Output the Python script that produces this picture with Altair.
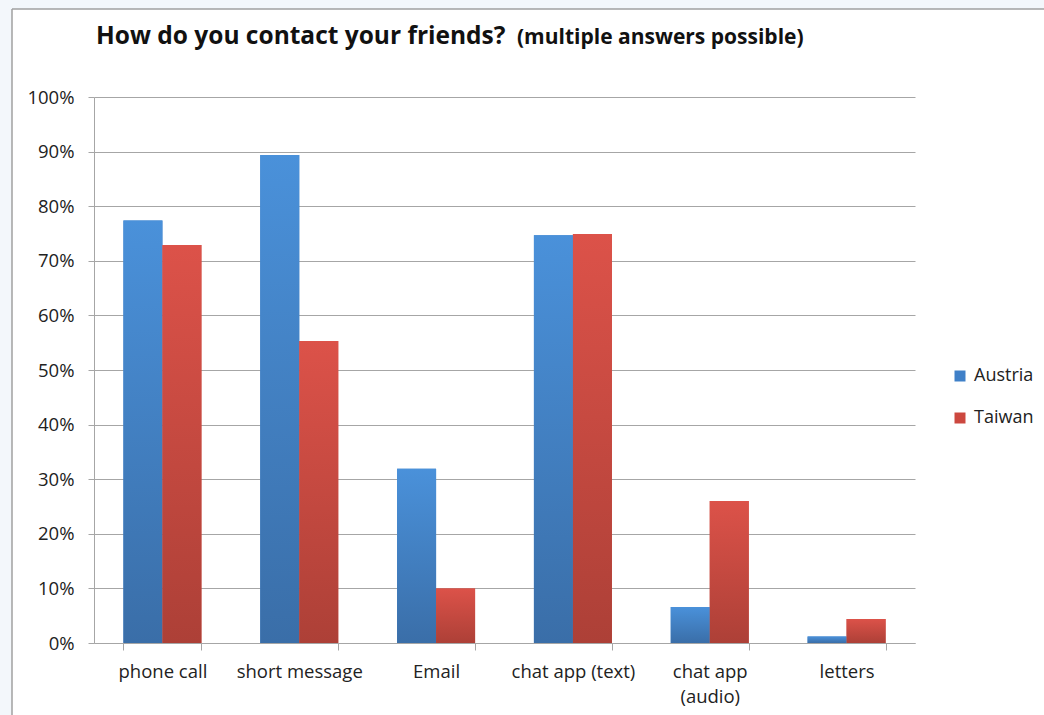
import altair as alt
import pandas as pd

categories = ["phone call", "short message", "Email", "chat app (text)", "chat app (audio)", "letters"]
countries = ["Austria", "Taiwan"]
austria = [77.4, 89.4, 31.9, 74.7, 6.6, 1.2]
taiwan = [72.9, 55.3, 10.0, 74.9, 26.0, 4.4]
y_ticks = [0, 10, 20, 30, 40, 50, 60, 70, 80, 90, 100]
title_main = "How do you contact your friends?"
title_note = "(multiple answers possible)"

rows = []
for c, a, t in zip(categories, austria, taiwan):
    rows.append({"category": c, "country": "Austria", "value": a / 100})
    rows.append({"category": c, "country": "Taiwan", "value": t / 100})
df = pd.DataFrame(rows)

FONT = "Open Sans"
AXIS_GRAY = "#a6a6a6"
TEXT = "#222222"

x_enc = alt.X(
    "category:N",
    sort=categories,
    scale=alt.Scale(paddingInner=0.43, paddingOuter=0.215),
    axis=alt.Axis(
        title=None, labelAngle=0, tickBand="extent", grid=False,
        domainColor=AXIS_GRAY, tickColor=AXIS_GRAY, tickSize=7,
        labelPadding=12, labelFont=FONT, labelFontSize=18.5, labelColor=TEXT,
        labelLineHeight=25, labelBaseline="top",
        labelExpr="datum.value == 'chat app (audio)' ? ['chat app', '(audio)'] : datum.value",
    ),
)
xo_enc = alt.XOffset("country:N", scale=alt.Scale(domain=countries, paddingInner=0, paddingOuter=0))
y_enc = alt.Y(
    "value:Q",
    scale=alt.Scale(domain=[0, 1], nice=False),
    axis=alt.Axis(
        title=None, values=[v / 100 for v in y_ticks], format=".0%",
        gridColor=AXIS_GRAY, gridWidth=1, domainColor=AXIS_GRAY, tickColor=AXIS_GRAY,
        tickSize=6, labelPadding=14, labelFont=FONT, labelFontSize=18.5, labelColor=TEXT,
    ),
)

base = alt.Chart(df).mark_bar().encode(
    x=x_enc, xOffset=xo_enc, y=y_enc,
    color=alt.Color(
        "country:N",
        scale=alt.Scale(domain=countries, range=["#3f80c8", "#cc483f"]),
        legend=alt.Legend(
            title=None, orient="none", legendX=857, legendY=270, padding=0,
            symbolType="square", symbolSize=121, symbolStrokeWidth=0, symbolOpacity=1,
            labelFont=FONT, labelFontSize=18, labelColor=TEXT, labelOffset=5,
            rowPadding=24,
        ),
    ),
)

grad_blue = alt.LinearGradient(
    gradient="linear", x1=0, x2=0, y1=0, y2=1,
    stops=[alt.GradientStop(color="#4a91da", offset=0), alt.GradientStop(color="#3a6ea8", offset=1)],
)
grad_red = alt.LinearGradient(
    gradient="linear", x1=0, x2=0, y1=0, y2=1,
    stops=[alt.GradientStop(color="#dc5249", offset=0), alt.GradientStop(color="#ad4037", offset=1)],
)

blue_bars = alt.Chart(df).transform_filter(alt.datum.country == "Austria").mark_bar(fill=grad_blue).encode(
    x=x_enc, xOffset=xo_enc, y=y_enc
)
red_bars = alt.Chart(df).transform_filter(alt.datum.country == "Taiwan").mark_bar(fill=grad_red).encode(
    x=x_enc, xOffset=xo_enc, y=y_enc
)

one = pd.DataFrame({"k": [0]})
frame_fill = "#f3f7fb"
left_strip = alt.Chart(one).mark_rect(color=frame_fill).encode(
    x=alt.value(-94), x2=alt.value(-82), y=alt.value(-97), y2=alt.value(618)
)
top_strip = alt.Chart(one).mark_rect(color=frame_fill).encode(
    x=alt.value(-94), x2=alt.value(950), y=alt.value(-97), y2=alt.value(-88)
)
top_border = alt.Chart(one).mark_rule(color="#a0a0a0", strokeWidth=1.5).encode(
    x=alt.value(-82), x2=alt.value(950), y=alt.value(-88)
)
left_border = alt.Chart(one).mark_rule(color="#a0a0a0", strokeWidth=1.5).encode(
    x=alt.value(-82), y=alt.value(-88), y2=alt.value(618)
)

t1 = alt.Chart(pd.DataFrame({"t": [title_main]})).mark_text(
    font=FONT, fontSize=24.5, fontWeight="bold", align="left", baseline="middle", color="#111111"
).encode(text="t:N", x=alt.value(2), y=alt.value(-60))
t2 = alt.Chart(pd.DataFrame({"t": [title_note]})).mark_text(
    font=FONT, fontSize=21, fontWeight="bold", align="left", baseline="middle", color="#111111"
).encode(text="t:N", x=alt.value(423), y=alt.value(-59))

chart = alt.layer(
    left_strip, top_strip, top_border, left_border, base, blue_bars, red_bars, t1, t2
).properties(
    width=821, height=546,
    autosize=alt.AutoSizeParams(type="none"),
    padding={"left": 94, "top": 97, "right": 129, "bottom": 72},
    background="white",
).configure_view(stroke=None)

chart.save("out.html", embed_options={"renderer": "svg", "actions": False})
